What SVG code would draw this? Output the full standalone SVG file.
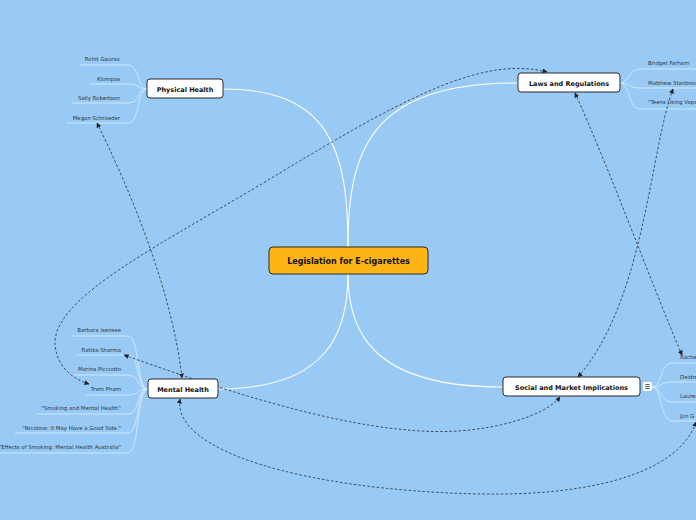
<svg xmlns="http://www.w3.org/2000/svg" width="696" height="520" viewBox="0 0 696 520">
<defs>
<style>
.main{fill:none;stroke:#ffffff;stroke-width:1.1}
.sub{fill:none;stroke:#dcefff;stroke-width:0.8}
.rel{fill:none;stroke:#2a2f38;stroke-width:0.8;stroke-dasharray:2.6,2;marker-start:url(#arr);marker-end:url(#arr)}
.box{fill:#ffffff;stroke:#2a2a2a;stroke-width:1}
.lbl{font-family:"DejaVu Sans",Verdana,sans-serif;font-weight:bold;font-size:6.5px;fill:#111;text-anchor:middle}
.ch{font-family:"DejaVu Sans",Verdana,sans-serif;font-size:5.4px;fill:#2b3645}
.r{text-anchor:end}
</style>
<marker id="arr" viewBox="0 0 10 10" refX="9" refY="5" markerWidth="5" markerHeight="5" markerUnits="userSpaceOnUse" orient="auto-start-reverse">
<path d="M0,0 L10,5 L0,10 Z" fill="#222"/>
</marker>
</defs>
<rect width="696" height="520" fill="#99CAF5"/>

<g id="connectors">
<path class="main" d="M223,89 C330,89 348,150 348,247"/>
<path class="main" d="M518,83 C370,83 348,150 348,247"/>
<path class="main" d="M218,389 C330,389 348,330 348,274"/>
<path class="main" d="M503,387 C370,387 348,330 348,274"/>

<path class="sub" d="M147,89 C137,89 140,65 128,65 L80,65"/>
<path class="sub" d="M147,89 C137,89 140,84 128,84 L90,84"/>
<path class="sub" d="M147,89 C137,89 140,103 128,103 L72,103"/>
<path class="sub" d="M147,89 C137,89 140,123 128,123 L67,123"/>

<path class="sub" d="M148,389 C136,389 140,336 128,336 L72,336"/>
<path class="sub" d="M148,389 C136,389 140,355 128,355 L76,355"/>
<path class="sub" d="M148,389 C136,389 140,375 128,375 L73,375"/>
<path class="sub" d="M148,389 C136,389 140,395 128,395 L86,395"/>
<path class="sub" d="M148,389 C136,389 140,414 128,414 L36,414"/>
<path class="sub" d="M148,389 C136,389 140,433 128,433 L15,433"/>
<path class="sub" d="M148,389 C136,389 140,453 128,453 L0,453"/>

<path class="sub" d="M620,83 C630,83 628,69 640,69 L696,69"/>
<path class="sub" d="M620,83 C630,83 628,88 640,88 L696,88"/>
<path class="sub" d="M620,83 C630,83 628,109 640,109 L696,109"/>

<path class="sub" d="M652,387 C662,387 660,363 672,363 L696,363"/>
<path class="sub" d="M652,387 C662,387 660,382 672,382 L696,382"/>
<path class="sub" d="M652,387 C662,387 660,402 672,402 L696,402"/>
<path class="sub" d="M652,387 C662,387 660,421 672,421 L696,421"/>

<path class="rel" d="M97,123 C130,190 172,290 182,378"/>
<path class="rel" d="M547,72 C480,55 400,100 260,185 C150,250 52,300 55,345 C57,365 70,378 89,384"/>
<path class="rel" d="M575,93 C610,170 650,280 682,355"/>
<path class="rel" d="M673,89 C650,150 645,300 578,377"/>
<path class="rel" d="M124,355 C250,400 380,440 470,430 C520,424 550,410 560,397"/>
<path class="rel" d="M180,399 C172,450 300,490 480,494 C600,496 680,470 696,422"/>
</g>

<g id="center">
<rect x="269" y="247" width="159" height="27" rx="4" fill="#FDB515" stroke="#2a2a2a" stroke-width="1"/>
<text class="lbl" x="348.5" y="263.5" style="font-size:8px">Legislation for E-cigarettes</text>
</g>

<g id="physical-health">
<rect class="box" x="147" y="79" width="76" height="19" rx="3"/>
<text class="lbl" x="185" y="91.5">Physical Health</text>
<text class="ch r" x="120" y="61">Rohit Gaurav</text>
<text class="ch r" x="120" y="81">Klompas</text>
<text class="ch r" x="120" y="100">Sally Robertson</text>
<text class="ch r" x="120" y="120">Megan Schroeder</text>
</g>

<g id="laws">
<rect class="box" x="518" y="73" width="102" height="19" rx="3"/>
<text class="lbl" x="569" y="85.5">Laws and Regulations</text>
<text class="ch" x="648" y="65">Bridget Farham</text>
<text class="ch" x="648" y="85">Matthew Stanbrook</text>
<text class="ch" x="648" y="104">"Teens Using Vapes"</text>
</g>

<g id="mental-health">
<rect class="box" x="148" y="379" width="70" height="19" rx="3"/>
<text class="lbl" x="183" y="391.5">Mental Health</text>
<text class="ch r" x="121" y="332">Barbara Isensee</text>
<text class="ch r" x="121" y="352">Ratika Sharma</text>
<text class="ch r" x="121" y="371">Marina Picciotto</text>
<text class="ch r" x="121" y="391">Tram Pham</text>
<text class="ch r" x="121" y="410">"Smoking and Mental Health"</text>
<text class="ch r" x="121" y="430">"Nicotine: It May Have a Good Side."</text>
<text class="ch r" x="121" y="449">"Effects of Smoking: Mental Health Australia"</text>
</g>

<g id="social">
<rect class="box" x="503" y="377" width="137" height="19" rx="3"/>
<text class="lbl" x="571.5" y="389.5">Social and Market Implications</text>
<rect x="643" y="382" width="9" height="9" rx="1.5" fill="#ffffff"/>
<path d="M645.2,384.5 H649.8 M645.2,386.5 H649.8 M645.2,388.5 H649.8" stroke="#333" stroke-width="0.8"/>
<text class="ch" x="680" y="359">Rachel</text>
<text class="ch" x="680" y="379">Deidre</text>
<text class="ch" x="680" y="398">Lauren</text>
<text class="ch" x="680" y="418">Jon G</text>
</g>
</svg>
